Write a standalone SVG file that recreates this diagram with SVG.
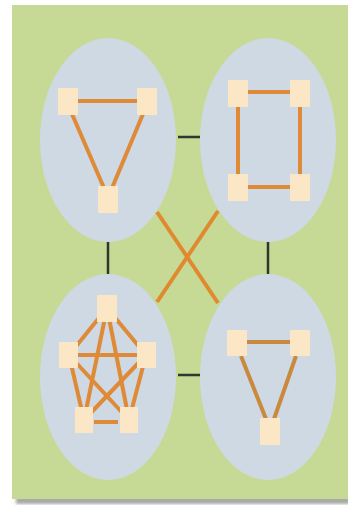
<svg xmlns="http://www.w3.org/2000/svg" width="348" height="506" viewBox="0 0 348 506">
<defs>
<filter id="sh" x="-5%" y="-5%" width="110%" height="110%"><feGaussianBlur stdDeviation="1.5"/></filter>
<style>
.cl{fill:#cfd9e4}
.nd{fill:#fbe7c6}
.ed{stroke:#df8a37;stroke-width:4;stroke-linecap:butt;fill:none}
.bk{stroke:#2b3a2b;stroke-width:2.5;fill:none}
.x{stroke:#e0892f;stroke-width:4;fill:none}
</style>
</defs>
<rect width="348" height="506" fill="#ffffff"/>
<rect x="16" y="497" width="334" height="7" fill="#a8a8a4" filter="url(#sh)"/>
<rect x="12" y="5" width="336" height="494" fill="#c6d995"/>
<g id="connectors">
<line class="bk" x1="178" y1="137" x2="200" y2="137"/>
<line class="bk" x1="178" y1="375" x2="200" y2="375"/>
<line class="bk" x1="108" y1="240" x2="108" y2="274"/>
<line class="bk" x1="268" y1="240" x2="268" y2="274"/>
<line class="x" x1="157" y1="212" x2="218" y2="303"/>
<line class="x" x1="218" y1="211" x2="157" y2="302"/>
</g>
<g id="cluster-tl">
<ellipse class="cl" cx="108" cy="140" rx="68" ry="102"/>
<line class="ed" x1="78" y1="101" x2="137" y2="101"/>
<line class="ed" x1="72" y1="114" x2="104" y2="188"/>
<line class="ed" x1="143" y1="114" x2="112" y2="188"/>
<g id="tl-a"><rect class="nd" x="58" y="88" width="20" height="27"/></g>
<g id="tl-b"><rect class="nd" x="137" y="88" width="20" height="27"/></g>
<g id="tl-c"><rect class="nd" x="98" y="186" width="20" height="27"/></g>
</g>
<g id="cluster-tr">
<ellipse class="cl" cx="268" cy="140" rx="68" ry="102"/>
<line class="ed" x1="248" y1="92" x2="290" y2="92"/>
<line class="ed" x1="248" y1="187" x2="290" y2="187"/>
<line class="ed" x1="238" y1="107" x2="238" y2="174"/>
<line class="ed" x1="300" y1="107" x2="300" y2="174"/>
<g id="tr-a"><rect class="nd" x="228" y="80" width="20" height="27"/></g>
<g id="tr-b"><rect class="nd" x="290" y="80" width="20" height="27"/></g>
<g id="tr-c"><rect class="nd" x="228" y="174" width="20" height="27"/></g>
<g id="tr-d"><rect class="nd" x="290" y="174" width="20" height="27"/></g>
</g>
<g id="cluster-bl">
<ellipse class="cl" cx="108" cy="377" rx="68" ry="103"/>
<line class="ed" x1="107" y1="308" x2="69" y2="355"/>
<line class="ed" x1="107" y1="308" x2="146" y2="355"/>
<line class="ed" x1="107" y1="308" x2="84" y2="420"/>
<line class="ed" x1="107" y1="308" x2="129" y2="420"/>
<line class="ed" x1="69" y1="355" x2="146" y2="355"/>
<line class="ed" x1="69" y1="355" x2="84" y2="420"/>
<line class="ed" x1="69" y1="355" x2="129" y2="420"/>
<line class="ed" x1="146" y1="355" x2="84" y2="420"/>
<line class="ed" x1="146" y1="355" x2="129" y2="420"/>
<line class="ed" x1="94" y1="422" x2="118" y2="422"/>
<g id="bl-a"><rect class="nd" x="97" y="295" width="20" height="27"/></g>
<g id="bl-b"><rect class="nd" x="59" y="342" width="19" height="26"/></g>
<g id="bl-c"><rect class="nd" x="137" y="342" width="19" height="26"/></g>
<g id="bl-d"><rect class="nd" x="75" y="407" width="18" height="26"/></g>
<g id="bl-e"><rect class="nd" x="120" y="407" width="18" height="26"/></g>
</g>
<g id="cluster-br">
<ellipse class="cl" cx="268" cy="377" rx="68" ry="103"/>
<line class="ed" x1="247" y1="342" x2="290" y2="342" style="stroke:#c98a3e"/>
<line class="ed" x1="241" y1="356" x2="266" y2="419" style="stroke:#c98a3e"/>
<line class="ed" x1="296" y1="356" x2="274" y2="419" style="stroke:#c98a3e"/>
<g id="br-a"><rect class="nd" x="227" y="330" width="20" height="26"/></g>
<g id="br-b"><rect class="nd" x="290" y="330" width="20" height="26"/></g>
<g id="br-c"><rect class="nd" x="260" y="418" width="20" height="27"/></g>
</g>
</svg>
